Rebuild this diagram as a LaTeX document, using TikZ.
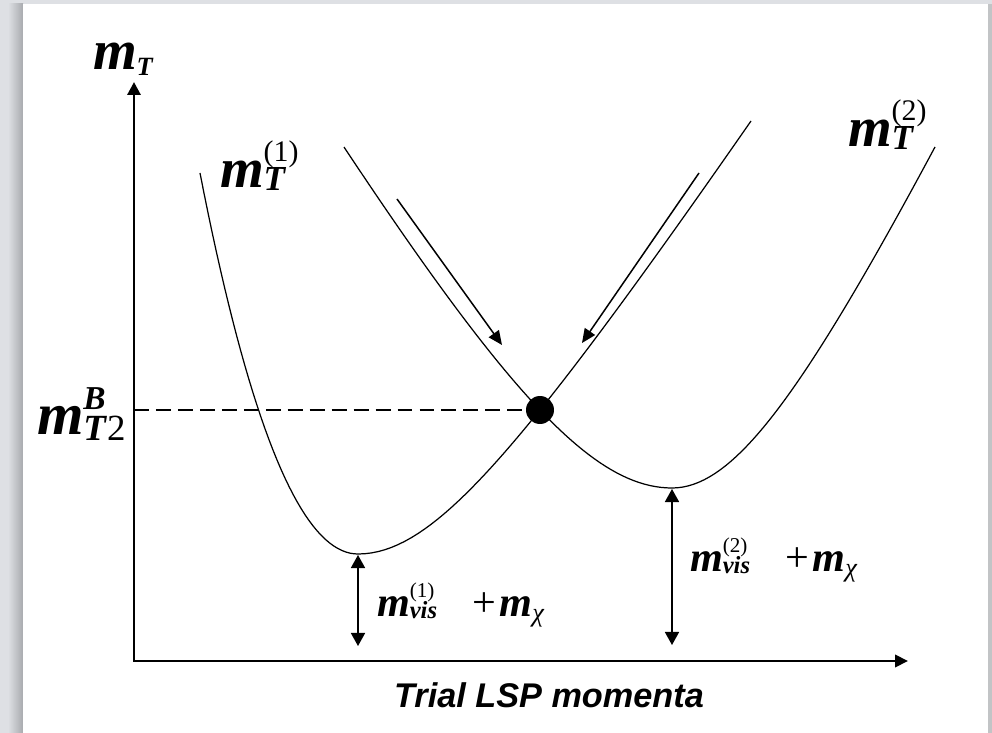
\documentclass[tikz,border=0pt]{standalone}
\usepackage{fontspec}
\setmainfont{Liberation Serif}
\setsansfont{Liberation Sans}
\usetikzlibrary{arrows.meta}

\definecolor{frame}{RGB}{222,224,228}
\definecolor{frameshade}{RGB}{168,170,174}

\newcommand{\fsz}[1]{\fontsize{#1}{#1}\selectfont}
\newcommand{\bfm}{\textbf{\textit{m}}}
% sub and sup stacked behind a symbol
\newcommand{\idx}[4]{%
  \setbox0=\hbox{\raisebox{#1}{#2}}%
  \setbox2=\hbox{\raisebox{#3}{#4}}%
  \ifdim\wd0>\wd2 \rlap{\copy2}\copy0 \else \rlap{\copy0}\copy2 \fi}

\tikzset{
  curve/.style={line width=0.7pt},
  axis/.style={line width=1.7pt, {Triangle[length=7.4pt,width=7.4pt]}-{Triangle[length=7.4pt,width=7pt]}},
  gap/.style={line width=0.85pt, {Triangle[length=7.4pt,width=8pt]}-{Triangle[length=7.4pt,width=8pt]}},
  slide/.style={line width=0.85pt, -{Triangle[length=8pt,width=7pt]}},
  level/.style={line width=1.6pt, dash pattern=on 8.5pt off 4pt},
  dot/.style={circle, fill=black, inner sep=0pt, minimum size=0.56cm},
  lab/.style={anchor=base west, inner sep=0pt, outer sep=0pt}
}

\begin{document}
\begin{tikzpicture}[x=0.02cm, y=-0.02cm]

\useasboundingbox (0,0) rectangle (992,733);

% frame
\fill [frame] (0,0) rectangle (992,733);
\shade [left color=frame, right color=frameshade] (8,4) rectangle (23,733);
\fill [frameshade!70] (988,4) rectangle (992,733);
\fill [white] (23,4) rectangle (988,733);

% axes
\coordinate (O) at (134,661);
\coordinate (ytip) at (134,82);
\coordinate (xtip) at (908,661);
\draw [axis] (ytip) -- (O) -- (xtip);

\node[lab] (mT) at (93,70) {\fsz{32}\bfm\raisebox{-3pt}{\fsz{15}\bfseries\itshape T}};
\node[anchor=base, inner sep=0pt] (xlab) at (549,707) {\sffamily\bfseries\itshape\fsz{19.5}Trial LSP momenta};

% the two transverse masses (x in px, scaled by 100 inside)
 \draw [curve] plot[domain=200:358, samples=40, variable=\t] (\t, {554 - 133.62*((358-\t)/100)^2 - 12.027*((358-\t)/100)^3})
   -- plot[domain=358:751, samples=60, variable=\t] (\t, {554 - 100*(sqrt(3.6252 + 2.2815*((\t-358)/100)^2) - 1.904)});
\node[lab] (mT1) at (220,188) {\fsz{32}\bfm\idx{-1.5pt}{\fsz{20}\bfseries\itshape T}{15pt}{\fsz{17}(1)}};

 \draw [curve] plot[domain=344:672, samples=60, variable=\t] (\t, {488 - 100*(sqrt(7.8344 + 2.855*((672-\t)/100)^2) - 2.799)})
   -- plot[domain=672:935, samples=50, variable=\t] (\t, {488 - 100*(sqrt(7.1236 + 4.313*((\t-672)/100)^2) - 2.669)});
\node[lab] (mT2) at (848,147) {\fsz{32}\bfm\idx{-1.5pt}{\fsz{20}\bfseries\itshape T}{15pt}{\fsz{17}(2)}};

% crossing point
\node[dot] (bal) at (540,410) {};
\draw [level] (O |- bal) -- (bal.west);
\node[lab] (mT2B) at (37,435) {\fsz{34}\bfm\idx{-3pt}{\fsz{21}\textbf{\textit{T}}2}{14.5pt}{\fsz{19}\bfseries\itshape B}};

% sliding towards the crossing
\coordinate (s1) at (397,199);
\coordinate (e1) at (502,345);
\coordinate (s2) at (699,173);
\coordinate (e2) at (582,343);
\draw [slide] (s1) -- (e1);
\draw [slide] (s2) -- (e2);

% minima
\coordinate (min1) at (358,555);
\coordinate (foot1) at (358,646);
\coordinate (min2) at (672,489);
\coordinate (foot2) at (672,645);
\draw [gap] (min1) -- (foot1);
\draw [gap] (min2) -- (foot2);

\node[lab] (vis1) at (377,617) {\fsz{24}\bfm\idx{-1pt}{\fsz{14}\bfseries\itshape vis}{11pt}{\fsz{12}(1)}\hspace{20pt}+\kern2pt\bfm\raisebox{-2.5pt}{\fsz{15}\itshape χ}};
\node[lab] (vis2) at (690,572) {\fsz{24}\bfm\idx{-1pt}{\fsz{14}\bfseries\itshape vis}{11pt}{\fsz{12}(2)}\hspace{20pt}+\kern2pt\bfm\raisebox{-2.5pt}{\fsz{15}\itshape χ}};

 \end{tikzpicture}
\end{document}
